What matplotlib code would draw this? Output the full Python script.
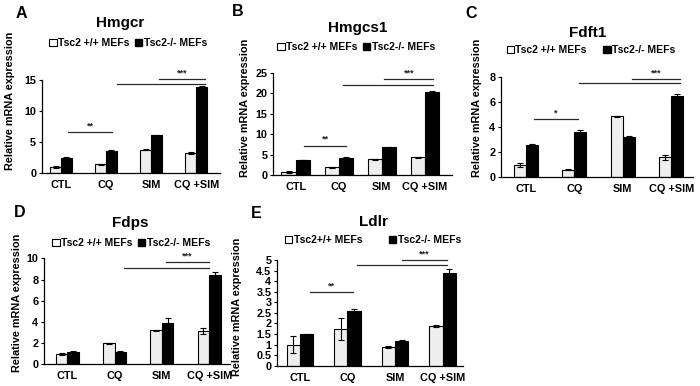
import matplotlib
matplotlib.use('Agg')
import matplotlib.pyplot as plt
from matplotlib.patches import Patch
import numpy as np

plt.rcParams['font.family'] = ['Liberation Sans', 'DejaVu Sans']
plt.rcParams['font.weight'] = 'bold'

groups = ['CTL', 'CQ', 'SIM', 'CQ +SIM']

# relative mRNA expression, wild type (Tsc2 +/+) and knockout (Tsc2-/-)
hmgcr_wt = [1.0, 1.45, 3.8, 3.25]
hmgcr_wt_err = [0.15, 0.1, 0.1, 0.1]
hmgcr_ko = [2.5, 3.6, 6.1, 13.9]
hmgcr_ko_err = [0.1, 0.1, 0.05, 0.1]

hmgcs1_wt = [0.8, 1.85, 3.8, 4.3]
hmgcs1_wt_err = [0.2, 0.2, 0.15, 0.15]
hmgcs1_ko = [3.6, 4.2, 6.75, 20.3]
hmgcs1_ko_err = [0.05, 0.2, 0.05, 0.15]

fdft1_wt = [0.97, 0.6, 4.9, 1.6]
fdft1_wt_err = [0.17, 0.04, 0.04, 0.18]
fdft1_ko = [2.6, 3.65, 3.25, 6.5]
fdft1_ko_err = [0.04, 0.17, 0.04, 0.15]

fdps_wt = [0.95, 2.0, 3.2, 3.15]
fdps_wt_err = [0.1, 0.05, 0.05, 0.25]
fdps_ko = [1.2, 1.2, 3.93, 8.43]
fdps_ko_err = [0.02, 0.02, 0.4, 0.3]

ldlr_wt = [1.0, 1.73, 0.88, 1.88]
ldlr_wt_err = [0.4, 0.52, 0.03, 0.03]
ldlr_ko = [1.48, 2.58, 1.17, 4.37]
ldlr_ko_err = [0.03, 0.1, 0.03, 0.2]

# significance bars: (x start, x end, height, stars)
hmgcr_sig = [(0.16, 1.14, 6.6, '**'), (1.25, 3.2, 14.4, ''), (2.18, 3.2, 15.2, '***')]
hmgcs1_sig = [(0.2, 1.17, 7.2, '**'), (1.11, 3.2, 22.1, ''), (2.05, 3.2, 23.5, '***')]
fdft1_sig = [(0.18, 1.07, 4.64, '*'), (1.09, 3.18, 7.52, ''), (2.19, 3.18, 7.87, '***')]
fdps_sig = [(1.19, 3.0, 9.12, ''), (2.08, 3.0, 9.62, '***')]
ldlr_sig = [(0.21, 1.12, 3.47, '**'), (1.19, 3.08, 4.76, ''), (2.15, 3.08, 5.0, '***')]

W, H = 700, 386
fig = plt.figure(figsize=(W / 100, H / 100), dpi=100)
fig.patch.set_facecolor('white')


def fx(x):
    return x / W


def fy(y):
    return 1 - y / H


def draw_panel(box, xlim, width, ylim, yticks, wt, wt_err, ko, ko_err, sig,
               title, title_xy, letter, letter_xy, ylab_xy, leg_labels, leg_xy, leg_gap):
    l, t, r, b = box
    ax = fig.add_axes([fx(l), fy(b), fx(r - l), (b - t) / H])
    x = np.arange(len(groups))
    ax.bar(x - width / 2, wt, width, color='#eeeeee', edgecolor='black', linewidth=0.8,
           yerr=wt_err, capsize=2, error_kw=dict(elinewidth=0.8, capthick=0.8))
    ax.bar(x + width / 2, ko, width, color='black', edgecolor='black', linewidth=0.8,
           yerr=ko_err, capsize=2, error_kw=dict(elinewidth=0.8, capthick=0.8))
    ax.set_xlim(*xlim)
    ax.set_ylim(*ylim)
    ax.set_yticks(yticks)
    ax.set_yticklabels(['%g' % v for v in yticks])
    ax.set_xticks(x)
    ax.set_xticklabels(groups)
    ax.tick_params(axis='x', length=0, labelsize=7.8, pad=5)
    ax.tick_params(axis='y', length=2.5, width=0.8, labelsize=7.8, pad=1.5)
    for s in ['top', 'right']:
        ax.spines[s].set_visible(False)
    for s in ['left', 'bottom']:
        ax.spines[s].set_linewidth(0.9)
    span = ylim[1] - ylim[0]
    for x0, x1, y, stars in sig:
        ax.plot([x0, x1], [y, y], color='#2a2a2a', lw=0.9, clip_on=False)
        if stars:
            ax.text((x0 + x1) / 2, y + span * 0.015, stars, ha='center', va='bottom',
                    fontsize=6.5, color='#222222')
    fig.text(fx(title_xy[0]), fy(title_xy[1]), title, ha='center', va='center', fontsize=11)
    fig.text(fx(letter_xy[0]), fy(letter_xy[1]), letter, ha='center', va='center', fontsize=11.5)
    fig.text(fx(ylab_xy[0]), fy(ylab_xy[1]), 'Relative mRNA expression', rotation=90,
             ha='center', va='center', fontsize=7.8)
    handles = [Patch(facecolor='white', edgecolor='black', linewidth=0.8),
               Patch(facecolor='black', edgecolor='black')]
    fig.legend(handles, leg_labels, ncol=2, loc='center',
               bbox_to_anchor=(fx(leg_xy[0]), fy(leg_xy[1])), frameon=False,
               fontsize=7.5, handlelength=0.7, handleheight=0.7, handletextpad=0.15,
               columnspacing=leg_gap, borderpad=0, borderaxespad=0)
    return ax


draw_panel((41.7, 80, 220, 173.3), (-0.43, 3.53), 0.24, (0, 15), [0, 5, 10, 15],
           hmgcr_wt, hmgcr_wt_err, hmgcr_ko, hmgcr_ko_err, hmgcr_sig,
           'Hmgcr', (120, 23), 'A', (21, 13), (10, 101),
           ['Tsc2 +/+ MEFs', 'Tsc2-/- MEFs'], (128, 43), 0.5)

draw_panel((273.3, 72.7, 452, 175), (-0.52, 3.63), 0.33, (0, 25), [0, 5, 10, 15, 20, 25],
           hmgcs1_wt, hmgcs1_wt_err, hmgcs1_ko, hmgcs1_ko_err, hmgcs1_sig,
           'Hmgcs1', (358, 28), 'B', (238, 12), (245, 108),
           ['Tsc2 +/+ MEFs', 'Tsc2-/- MEFs'], (356, 47), 0.5)

draw_panel((501, 77.3, 693, 177.3), (-0.51, 3.45), 0.25, (0, 8), [0, 2, 4, 6, 8],
           fdft1_wt, fdft1_wt_err, fdft1_ko, fdft1_ko_err, fdft1_sig,
           'Fdft1', (588, 33), 'C', (471, 13), (477, 108),
           ['Tsc2 +/+ MEFs', 'Tsc2-/- MEFs'], (591, 50), 1.6)

draw_panel((44, 258.3, 230, 364.3), (-0.49, 3.44), 0.24, (0, 10), [0, 2, 4, 6, 8, 10],
           fdps_wt, fdps_wt_err, fdps_ko, fdps_ko_err, fdps_sig,
           'Fdps', (130, 223), 'D', (20, 213), (17, 303),
           ['Tsc2 +/+ MEFs', 'Tsc2-/- MEFs'], (131, 243), 0.5)

draw_panel((277, 260, 462.7, 365.7), (-0.48, 3.42), 0.28, (0, 5),
           [0, 0.5, 1, 1.5, 2, 2.5, 3, 3.5, 4, 4.5, 5],
           ldlr_wt, ldlr_wt_err, ldlr_ko, ldlr_ko_err, ldlr_sig,
           'Ldlr', (373, 222), 'E', (256, 214), (237, 307),
           ['Tsc2+/+ MEFs', 'Tsc2-/- MEFs'], (373, 240), 2.6)

fig.savefig('out.png', dpi=100)
